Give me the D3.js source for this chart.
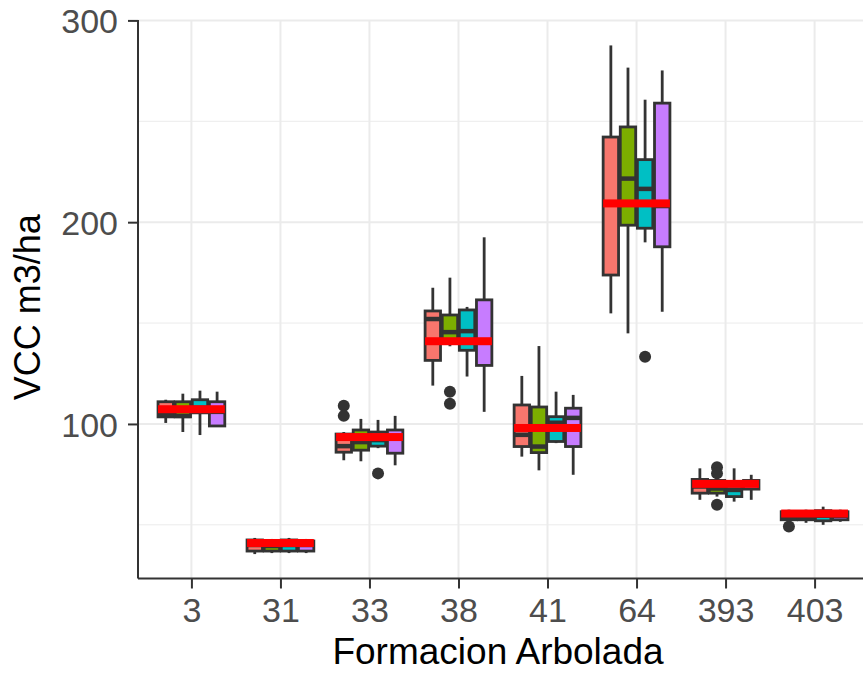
<!DOCTYPE html>
<html>
<head>
<meta charset="utf-8">
<script src="https://cdn.jsdelivr.net/npm/d3@7"></script>
<style>
  html, body { margin: 0; padding: 0; background: #fff; }
  svg { display: block; }
</style>
</head>
<body>
<svg id="chart" width="863" height="676"></svg>
<script>
// ---- data ----
const categories = ["3", "31", "33", "38", "41", "64", "393", "403"];
const groups = ["g1", "g2", "g3", "g4"];
const groupColors = ["#F8766D", "#7CAE00", "#00BFC4", "#C77CFF"];

// per category, per group (4 values each)
const whiskerLow = [
  [100.5, 96, 94.5, 98.5],
  [35.5, 36, 36, 36],
  [82, 81.5, 88, 79.5],
  [119, 138.5, 123.5, 106],
  [83.8, 77, 90.5, 74.8],
  [154.8, 144.9, 190, 155.6],
  [62.4, 64, 61.5, 62.4],
  [51.5, 51, 50, 51.5]
];
const q1 = [
  [103.5, 103.5, 105.5, 99],
  [37, 37, 37, 37],
  [86, 87, 89, 85.5],
  [131.5, 141.5, 136.5, 129],
  [88.8, 85.8, 91.3, 88.8],
  [173.8, 198.5, 197, 187.8],
  [65.7, 65.7, 64, 67.7],
  [52.5, 52.5, 52, 52.5]
];
const median = [
  [105, 104, 108, 106],
  [40, 39.5, 40, 40],
  [89, 91, 92, 93],
  [152, 145.5, 146, 141],
  [94.6, 88.8, 100.6, 103],
  [209, 221.6, 216.5, 208],
  [69, 68, 67.3, 70],
  [54, 54, 54.5, 54.5]
];
const q3 = [
  [111, 111, 112, 111],
  [42.5, 42, 42.5, 42],
  [95, 97, 96, 97],
  [156, 154, 156.5, 161.5],
  [109.4, 108.4, 103.6, 107.8],
  [242.2, 247.2, 231, 259],
  [72.5, 72, 71.4, 72],
  [56.5, 56.5, 57, 56.5]
];
const whiskerHigh = [
  [112, 115, 116.5, 116],
  [43.5, 43, 43.5, 43],
  [96, 102.5, 102, 104],
  [167.5, 172.5, 158, 192.5],
  [123.8, 138.6, 116, 114.4],
  [287.6, 276.6, 260.7, 275.2],
  [78, 73, 78, 74.8],
  [57.5, 57.5, 59, 57.5]
];
// mean of each category (red bar)
const categoryMeans = [107.3, 41, 93.5, 141, 98, 209.3, 70.3, 55.6];

// outliers: [categoryIndex, groupIndex, value]
const outlierCat = [2, 2, 2, 3, 3, 5, 6, 6, 6, 7];
const outlierGroup = [0, 0, 2, 1, 1, 2, 1, 1, 1, 0];
const outlierValue = [109, 104, 75.5, 116, 110, 133.3, 78.5, 75.5, 60, 49.2];

const yTicks = [100, 200, 300];
const yMinorTicks = [50, 150, 250];
const xTitle = "Formacion Arbolada";
const yTitle = "VCC m3/ha";

// ---- layout ----
const svg = d3.select("#chart");
const pLeft = 138, pRight = 868, pTop = 20, pBottom = 578.5;

const x = d3.scalePoint().domain(categories).range([pLeft, pRight]).padding(0.6);
const step = x.step();
const dodge = d3.scaleBand().domain(groups).range([-0.375 * step, 0.375 * step]).paddingInner(0.1);
const y = d3.scaleLinear().domain([23.4, 300.2]).range([pBottom, pTop]);

const gridColor = "#EBEBEB";
const dark = "#333333";
const lw = 2.8;

// grid
const grid = svg.append("g");
grid.selectAll("line.minor").data(yMinorTicks).enter().append("line")
  .attr("x1", pLeft).attr("x2", pRight)
  .attr("y1", d => y(d)).attr("y2", d => y(d))
  .attr("stroke", gridColor).attr("stroke-width", 1);
grid.selectAll("line.major").data(yTicks).enter().append("line")
  .attr("x1", pLeft).attr("x2", pRight)
  .attr("y1", d => y(d)).attr("y2", d => y(d))
  .attr("stroke", gridColor).attr("stroke-width", 2);
grid.selectAll("line.vmajor").data(categories).enter().append("line")
  .attr("x1", d => x(d)).attr("x2", d => x(d))
  .attr("y1", pTop).attr("y2", pBottom)
  .attr("stroke", gridColor).attr("stroke-width", 2);

// boxes
const boxes = [];
categories.forEach((c, ci) => {
  groups.forEach((g, gi) => {
    boxes.push({
      c, ci, g, gi,
      lo: whiskerLow[ci][gi], q1: q1[ci][gi], med: median[ci][gi],
      q3: q3[ci][gi], hi: whiskerHigh[ci][gi]
    });
  });
});
const bw = dodge.bandwidth();
const boxG = svg.append("g");
const bx = d => x(d.c) + dodge(d.g);
const bcx = d => bx(d) + bw / 2;

boxG.selectAll("line.wh").data(boxes).enter().append("line")
  .attr("x1", bcx).attr("x2", bcx)
  .attr("y1", d => y(d.q3)).attr("y2", d => y(d.hi))
  .attr("stroke", dark).attr("stroke-width", lw);
boxG.selectAll("line.wl").data(boxes).enter().append("line")
  .attr("x1", bcx).attr("x2", bcx)
  .attr("y1", d => y(d.q1)).attr("y2", d => y(d.lo))
  .attr("stroke", dark).attr("stroke-width", lw);
boxG.selectAll("rect.box").data(boxes).enter().append("rect")
  .attr("x", bx).attr("width", bw)
  .attr("y", d => y(d.q3)).attr("height", d => Math.max(0.1, y(d.q1) - y(d.q3)))
  .attr("fill", d => groupColors[d.gi])
  .attr("stroke", dark).attr("stroke-width", lw);
boxG.selectAll("line.med").data(boxes).enter().append("line")
  .attr("x1", bx).attr("x2", d => bx(d) + bw)
  .attr("y1", d => y(d.med)).attr("y2", d => y(d.med))
  .attr("stroke", dark).attr("stroke-width", 4.5);

// outliers
const outs = outlierValue.map((v, i) => ({ ci: outlierCat[i], gi: outlierGroup[i], v }));
svg.append("g").selectAll("circle").data(outs).enter().append("circle")
  .attr("cx", d => x(categories[d.ci]) + dodge(groups[d.gi]) + bw / 2)
  .attr("cy", d => y(d.v))
  .attr("r", 6)
  .attr("fill", dark);

// mean bars
svg.append("g").selectAll("rect").data(categories).enter().append("rect")
  .attr("x", d => x(d) + dodge(groups[0]))
  .attr("width", d => dodge(groups[3]) + bw - dodge(groups[0]))
  .attr("y", (d, i) => y(categoryMeans[i]) - 4)
  .attr("height", 8)
  .attr("fill", "#FF0000");

// axes
const font = "'Liberation Sans', Arial, Helvetica, sans-serif";
const yAxis = svg.append("g").attr("transform", `translate(${pLeft},0)`)
  .call(d3.axisLeft(y).tickValues(yTicks).tickSize(10).tickPadding(10).tickSizeOuter(0));
const xAxis = svg.append("g").attr("transform", `translate(0,${pBottom})`)
  .call(d3.axisBottom(x).tickSize(10).tickPadding(8).tickSizeOuter(0));
[yAxis, xAxis].forEach(a => {
  a.select(".domain").attr("stroke", dark).attr("stroke-width", 2);
  a.selectAll(".tick line").attr("stroke", dark).attr("stroke-width", 2);
  a.selectAll(".tick text").attr("fill", "#4D4D4D")
    .style("font-family", font).style("font-size", "34px");
});
yAxis.selectAll(".tick text").attr("dy", "0.36em");
xAxis.selectAll(".tick text").attr("dy", "0.74em");
yAxis.select(".domain").attr("d", `M0,${pBottom}V${pTop}`);
xAxis.select(".domain").attr("d", `M${pLeft},0H${pRight}`);

// titles
svg.append("text")
  .attr("x", (pLeft + pRight) / 2 - 5).attr("y", 664)
  .attr("text-anchor", "middle")
  .style("font-family", font).style("font-size", "37px").attr("fill", "#000")
  .text(xTitle);
svg.append("text")
  .attr("transform", `translate(40,${(pTop + pBottom) / 2 + 8}) rotate(-90)`)
  .attr("text-anchor", "middle")
  .style("font-family", font).style("font-size", "36px").attr("fill", "#000")
  .text(yTitle);
</script>
</body>
</html>
